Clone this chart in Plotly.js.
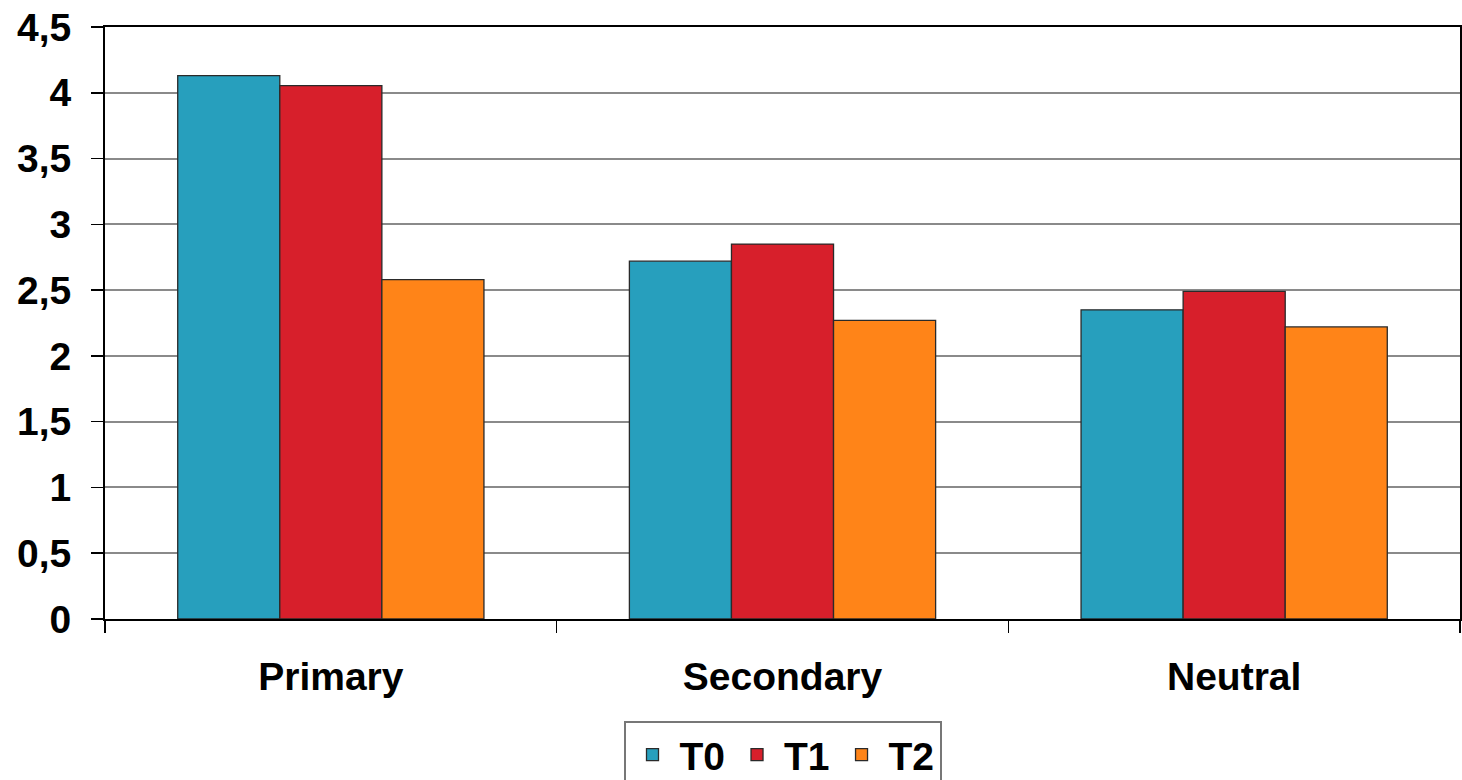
<!DOCTYPE html>
<html>
<head>
<meta charset="utf-8">
<script src="https://cdn.plot.ly/plotly-3.0.1.min.js"></script>
<style>html,body{margin:0;padding:0;background:#fff;}#chart{width:1462px;height:780px;}</style>
</head>
<body>
<div id="chart"></div>
<script>
const categories = ["Primary", "Secondary", "Neutral"];
const seriesNames = ["T0", "T1", "T2"];
const T0 = [4.13, 2.72, 2.35];
const T1 = [4.055, 2.85, 2.49];
const T2 = [2.58, 2.27, 2.22];
const colors = ["#279fbd", "#d71f2b", "#ff8418"];

const values = [T0, T1, T2];
const traces = values.map((v, i) => ({
  type: "bar",
  name: seriesNames[i],
  x: categories,
  y: v,
  marker: {color: colors[i], line: {color: "#2a2a2a", width: 1.3}},
  hoverinfo: "x+y+name"
}));

const font = {family: "Liberation Sans, Arial, sans-serif", size: 39, color: "#000", weight: "bold"};

const layout = {
  width: 1462, height: 780,
  margin: {l: 105, r: 2, t: 27, b: 161, autoexpand: false},
  paper_bgcolor: "#fff", plot_bgcolor: "#fff",
  separators: ", ",
  font: font,
  barmode: "group",
  bargap: 0.322,
  bargroupgap: 0,
  showlegend: true,
  legend: {
    orientation: "h",
    x: 0.5, xanchor: "center",
    y: -0.172, yanchor: "top",
    bordercolor: "#777", borderwidth: 2,
    font: font,
    itemwidth: 44
  },
  xaxis: {
    type: "category",
    showline: true, linecolor: "#000", linewidth: 2, mirror: true,
    ticks: "outside", tickson: "boundaries", ticklen: 12, tickcolor: "#000", tickwidth: 1.5,
    tickfont: font,
    ticklabelstandoff: 22,
    showgrid: false
  },
  yaxis: {
    range: [0, 4.5], dtick: 0.5, tick0: 0,
    showline: true, linecolor: "#000", linewidth: 2, mirror: true,
    ticks: "outside", ticklen: 12, tickcolor: "#000", tickwidth: 1.5,
    tickfont: font,
    ticklabelstandoff: 12,
    showgrid: true, gridcolor: "#8a8a8a", gridwidth: 2,
    zeroline: false
  }
};

Plotly.newPlot("chart", traces, layout, {displayModeBar: false, staticPlot: true});
</script>
</body>
</html>
